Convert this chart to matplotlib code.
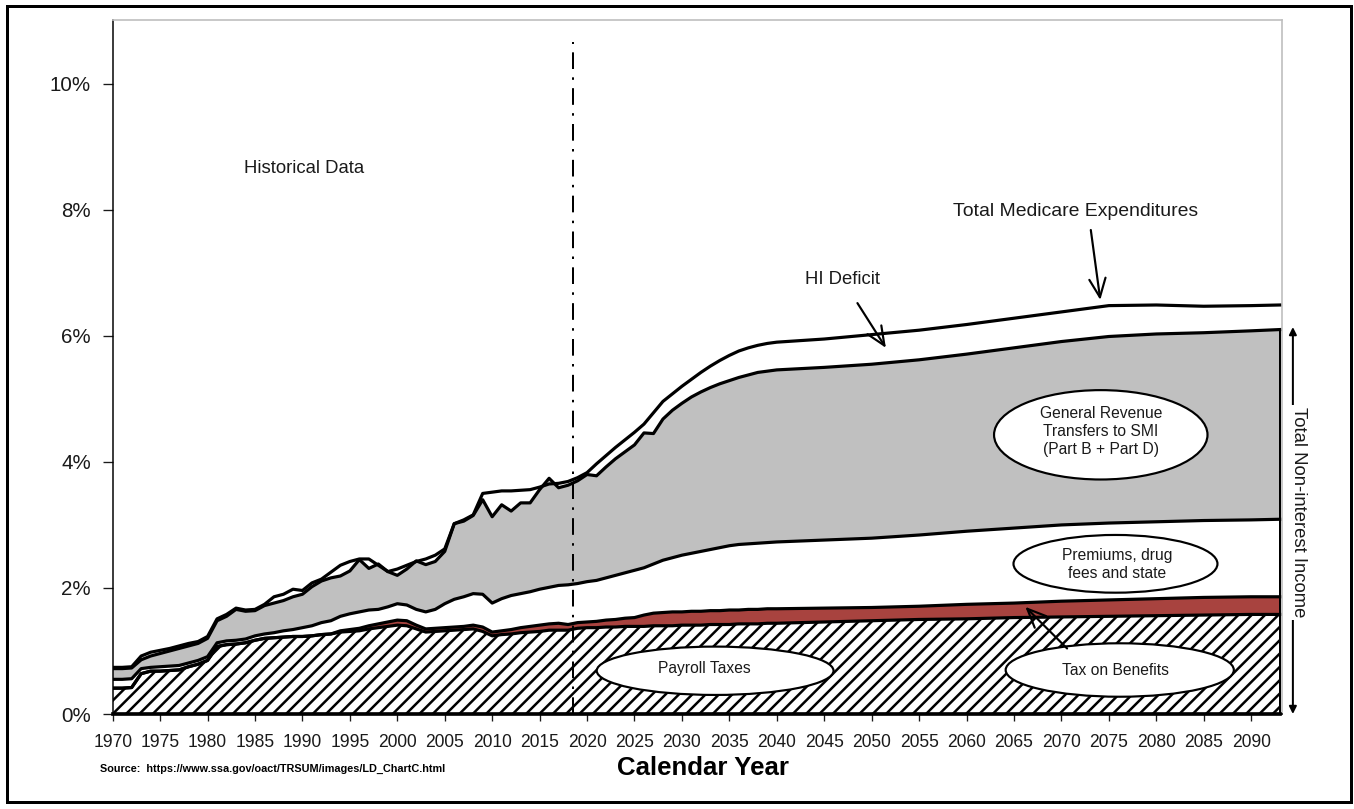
import matplotlib
matplotlib.use('Agg')
import matplotlib.pyplot as plt
from matplotlib.patches import Ellipse, Rectangle
import numpy as np

# ---------------- data (% of GDP, upper edge of each stacked band) ----------------
years = list(range(1970, 2041)) + [2045, 2050, 2055, 2060, 2065, 2070, 2075, 2080, 2085, 2090, 2093]

payroll_top = [
    0.41, 0.41, 0.42, 0.64, 0.68, 0.68, 0.69, 0.70, 0.75, 0.79,   # 1970-79
    0.85, 1.07, 1.10, 1.11, 1.13, 1.17, 1.20, 1.21, 1.22, 1.23,   # 1980-89
    1.23, 1.24, 1.26, 1.27, 1.30, 1.31, 1.32, 1.35, 1.37, 1.39,   # 1990-99
    1.41, 1.40, 1.35, 1.30, 1.31, 1.32, 1.33, 1.34, 1.35, 1.31,   # 2000-09
    1.24, 1.26, 1.27, 1.29, 1.30, 1.31, 1.33, 1.33, 1.33,         # 2010-18
    1.36, 1.37, 1.37, 1.38, 1.38, 1.39, 1.39, 1.39, 1.40, 1.40,   # 2019-28
    1.40, 1.41, 1.41, 1.41, 1.42, 1.42, 1.42, 1.43, 1.43, 1.43,   # 2029-38
    1.44, 1.44,                                                   # 2039-40
    1.46, 1.48, 1.50, 1.51, 1.53, 1.54, 1.55, 1.56, 1.57, 1.58, 1.58]

tax_on_benefits_top = [
    0.41, 0.41, 0.42, 0.64, 0.68, 0.68, 0.69, 0.70, 0.75, 0.79,
    0.85, 1.07, 1.10, 1.11, 1.13, 1.17, 1.20, 1.21, 1.22, 1.23,
    1.23, 1.24, 1.26, 1.27, 1.32, 1.34, 1.36, 1.40, 1.43, 1.46,
    1.49, 1.48, 1.41, 1.35, 1.36, 1.37, 1.38, 1.39, 1.41, 1.38,
    1.30, 1.32, 1.34, 1.37, 1.39, 1.41, 1.43, 1.44, 1.42,
    1.45, 1.46, 1.47, 1.49, 1.50, 1.52, 1.53, 1.57, 1.60, 1.61,
    1.62, 1.62, 1.63, 1.63, 1.64, 1.64, 1.65, 1.65, 1.66, 1.66,
    1.67, 1.67,
    1.68, 1.69, 1.71, 1.74, 1.76, 1.79, 1.81, 1.83, 1.85, 1.86, 1.86]

premiums_top = [
    0.55, 0.55, 0.56, 0.72, 0.74, 0.75, 0.76, 0.77, 0.81, 0.85,
    0.91, 1.13, 1.16, 1.17, 1.19, 1.24, 1.27, 1.29, 1.32, 1.34,
    1.37, 1.40, 1.45, 1.48, 1.55, 1.59, 1.62, 1.65, 1.66, 1.70,
    1.75, 1.73, 1.66, 1.62, 1.66, 1.75, 1.82, 1.86, 1.91, 1.90,
    1.76, 1.83, 1.88, 1.91, 1.94, 1.98, 2.01, 2.04, 2.05,
    2.07, 2.10, 2.12, 2.16, 2.20, 2.24, 2.28, 2.32, 2.38, 2.44,
    2.48, 2.52, 2.55, 2.58, 2.61, 2.64, 2.67, 2.69, 2.70, 2.71,
    2.72, 2.73,
    2.76, 2.79, 2.84, 2.90, 2.95, 3.00, 3.03, 3.05, 3.07, 3.08, 3.09]

income_top = [
    0.72, 0.72, 0.73, 0.86, 0.92, 0.96, 1.00, 1.04, 1.08, 1.12,
    1.20, 1.48, 1.55, 1.66, 1.63, 1.64, 1.72, 1.76, 1.80, 1.86,
    1.90, 2.02, 2.11, 2.16, 2.19, 2.27, 2.45, 2.31, 2.38, 2.26,
    2.20, 2.30, 2.43, 2.37, 2.42, 2.58, 3.02, 3.06, 3.15, 3.40,
    3.13, 3.32, 3.22, 3.35, 3.35, 3.56, 3.74, 3.59, 3.63,
    3.70, 3.80, 3.78, 3.92, 4.05, 4.16, 4.27, 4.46, 4.45, 4.68,
    4.82, 4.93, 5.03, 5.11, 5.18, 5.24, 5.29, 5.34, 5.38, 5.42,
    5.44, 5.46,
    5.50, 5.55, 5.62, 5.71, 5.81, 5.91, 5.99, 6.03, 6.05, 6.08, 6.10]

total_expenditures = [
    0.74, 0.74, 0.75, 0.92, 0.98, 1.01, 1.04, 1.08, 1.12, 1.15,
    1.23, 1.51, 1.58, 1.68, 1.65, 1.66, 1.74, 1.86, 1.90, 1.98,
    1.96, 2.08, 2.14, 2.25, 2.36, 2.42, 2.46, 2.46, 2.36, 2.26,
    2.30, 2.36, 2.42, 2.46, 2.52, 2.62, 3.02, 3.08, 3.16, 3.50,
    3.52, 3.54, 3.54, 3.55, 3.56, 3.60, 3.65, 3.66, 3.69,
    3.75, 3.83, 3.97, 4.10, 4.23, 4.35, 4.47, 4.60, 4.78, 4.96,
    5.08, 5.20, 5.31, 5.42, 5.52, 5.61, 5.69, 5.76, 5.81, 5.85,
    5.88, 5.90,
    5.95, 6.02, 6.09, 6.18, 6.28, 6.38, 6.48, 6.49, 6.47, 6.48, 6.49]

x_ticks = list(range(1970, 2091, 5))
y_ticks = [0, 2, 4, 6, 8, 10]
last_historical_year = 2018.5

# ---------------- figure ----------------
DPI = 120
W, H = 1354, 809
plt.rcParams['font.family'] = ['Liberation Sans', 'DejaVu Sans']
plt.rcParams['hatch.linewidth'] = 1.5
plt.rcParams['lines.scale_dashes'] = False

fig = plt.figure(figsize=(W / DPI, H / DPI), dpi=DPI)
fig.patch.set_facecolor('white')

left_px, right_px, top_px, bottom_px = 112.7, 1281.5, 19.5, 714.0
ax = fig.add_axes([left_px / W, (H - bottom_px) / H,
                   (right_px - left_px) / W, (bottom_px - top_px) / H])

yrs = np.array(years, dtype=float)
P = np.array(payroll_top)
PT = np.array(tax_on_benefits_top)
PR = np.array(premiums_top)
INC = np.array(income_top)
EXP = np.array(total_expenditures)

GRAY = '#C0C0C0'
RED = '#A8433F'
LW = 1.9

ax.fill_between(yrs, 0, P, facecolor='white', edgecolor='black', hatch='///', linewidth=0, zorder=1)
ax.fill_between(yrs, P, PT, facecolor=RED, linewidth=0, zorder=1)
ax.fill_between(yrs, PT, PR, facecolor='white', linewidth=0, zorder=1)
ax.fill_between(yrs, PR, INC, facecolor=GRAY, linewidth=0, zorder=1)

for series in (P, PT, PR, INC, EXP):
    ax.plot(yrs, series, color='black', lw=LW, solid_joinstyle='round', zorder=3)
ax.plot([1970, 2093], [0, 0], color='black', lw=2.2, zorder=3, clip_on=False)
ax.plot([2093, 2093], [0, INC[-1]], color='black', lw=1.2, zorder=3)

# projection boundary
ax.plot([last_historical_year, last_historical_year], [0, 10.67], color='black', lw=1.2,
        linestyle=(0, (10, 5, 1.5, 5)), zorder=4)

ax.set_xlim(1970, 2093.2)
ax.set_ylim(0, 11.02)

ax.set_yticks(y_ticks)
ax.set_yticklabels([f'{v}%' for v in y_ticks])
ax.set_xticks(x_ticks)
ax.set_xticklabels([str(v) for v in x_ticks])
ax.tick_params(axis='y', direction='out', length=6, width=0.8, pad=7, labelsize=12.3, colors='#1a1a1a')
ax.tick_params(axis='x', direction='out', length=4, width=0.8, pad=8, labelsize=10.5, colors='#1a1a1a')

for s in ('top', 'right'):
    ax.spines[s].set_color('#BFBFBF')
    ax.spines[s].set_linewidth(1.0)
ax.spines['left'].set_color('black')
ax.spines['left'].set_linewidth(0.9)
ax.spines['bottom'].set_color('black')
ax.spines['bottom'].set_linewidth(1.0)

# ---------------- annotations ----------------
TXT = '#1a1a1a'
ax.text(1990.2, 8.65, 'Historical Data', fontsize=11.1, ha='center', va='center', color=TXT)
ax.text(2071.5, 7.97, 'Total Medicare Expenditures', fontsize=11.6, ha='center', va='center', color=TXT)
ax.text(2046.9, 6.89, 'HI Deficit', fontsize=11.1, ha='center', va='center', color=TXT)

arrow_kw = dict(arrowstyle='->,head_length=0.8,head_width=0.35', lw=1.3, color='black', shrinkA=0, shrinkB=0)
ax.annotate('', xy=(2074.1, 6.57), xytext=(2073.1, 7.68), arrowprops=dict(mutation_scale=14, **arrow_kw), zorder=6)
ax.annotate('', xy=(2051.5, 5.81), xytext=(2048.5, 6.52), arrowprops=dict(mutation_scale=14, **arrow_kw), zorder=6)
ax.annotate('', xy=(2066.2, 1.70), xytext=(2070.6, 1.04), arrowprops=dict(mutation_scale=14, **arrow_kw), zorder=6)

ell_kw = dict(facecolor='white', edgecolor='black', lw=1.3, zorder=5)
ax.add_patch(Ellipse((2033.5, 0.686), 24.96, 0.767, **ell_kw))
ax.add_patch(Ellipse((2076.15, 0.698), 24.05, 0.848, **ell_kw))
ax.add_patch(Ellipse((2074.15, 4.43), 22.5, 1.418, **ell_kw))
ax.add_patch(Ellipse((2075.7, 2.383), 21.5, 0.916, **ell_kw))

ax.text(2032.4, 0.725, 'Payroll Taxes', fontsize=9.4, ha='center', va='center', color=TXT, zorder=7)
ax.text(2075.7, 0.698, 'Tax on Benefits', fontsize=9.4, ha='center', va='center', color=TXT, zorder=7)
ax.text(2074.15, 4.48, 'General Revenue\nTransfers to SMI\n(Part B + Part D)', fontsize=9.4,
        ha='center', va='center', color=TXT, linespacing=1.25, zorder=7)
ax.text(2075.9, 2.38, 'Premiums, drug\nfees and state', fontsize=9.4,
        ha='center', va='center', color=TXT, linespacing=1.25, zorder=7)

# total non-interest income double arrow
ax.annotate('', xy=(2094.4, 0.0), xytext=(2094.4, 6.14),
            arrowprops=dict(arrowstyle='<|-|>', lw=1.2, color='black', mutation_scale=9,
                            shrinkA=0, shrinkB=0), annotation_clip=False, zorder=6)
ax.text(2095.0, 3.20, 'Total Non-interest Income', rotation=270, fontsize=11.1, ha='center', va='center',
        color=TXT, clip_on=False, zorder=7,
        bbox=dict(facecolor='white', edgecolor='none', pad=1.5))

# ---------------- footer ----------------
fig.text(100 / W, (H - 769) / H, 'Source:  https://www.ssa.gov/oact/TRSUM/images/LD_ChartC.html',
         fontsize=6.5, fontweight='bold', ha='left', va='center', color='black')
fig.text(617 / W, (H - 768) / H, 'Calendar Year', fontsize=15.5, fontweight='bold', ha='left',
         va='center', color='black')

# figure border
fig.add_artist(Rectangle((7 / W, (H - 802) / H), (1351 - 7) / W, (802 - 6) / H,
                         transform=fig.transFigure, fill=False, edgecolor='black', lw=1.8))

fig.savefig('out.png', dpi=DPI, facecolor='white')
